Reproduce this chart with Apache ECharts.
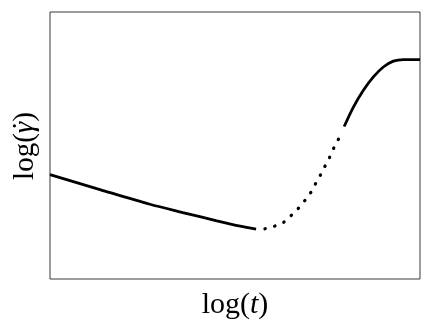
<!DOCTYPE html>
<html>
<head>
<meta charset="utf-8">
<script src="https://cdn.jsdelivr.net/npm/echarts@6/dist/echarts.min.js"></script>
<style>
html,body{margin:0;padding:0;background:#fff;}
#main{width:436px;height:329px;}
</style>
</head>
<body>
<div id="main"></div>
<script>
// curve, arbitrary log units (x 0..100, y 0..100)
var fallX = [0, 13.5, 27, 35.9, 45.1, 51.4, 55.7];
var fallY = [39.1, 33.5, 28.0, 24.9, 21.8, 19.8, 18.7];
var gapX = [58.1, 60.5, 63.0, 65.1, 67.0, 68.6, 70.3, 71.6, 73.0, 74.1, 75.4, 76.5, 77.8, 78.9];
var gapY = [18.8, 19.7, 21.1, 23.7, 26.3, 28.9, 32.0, 35.3, 38.7, 41.7, 45.1, 48.5, 51.9, 55.3];
var riseX = [79.5, 82.0, 84.7, 87.4, 90.1, 92.8, 95.5, 100];
var riseY = [57.1, 64.4, 70.7, 75.7, 79.4, 81.6, 82.2, 82.2];

function pairs(xs, ys){
	var out = [];
	for(var i=0;i<xs.length;i++) out.push([xs[i], ys[i]]);
	return out;
}

var font = '"Liberation Serif","DejaVu Serif",serif';
var myChart = echarts.init(document.getElementById('main'), null, {renderer:'canvas'});
var option = {
	animation:false,
	backgroundColor:'#fff',
	grid:{
		left:50, right:16, top:12, bottom:50,
		outerBoundsMode:'none', containLabel:false,
		show:true, borderColor:'#383838', borderWidth:1, backgroundColor:'transparent'
	},
	// y name drawn by hand so the dot over gamma shows up
	graphic:[{
		type:'group', x:25, y:146, rotation:Math.PI/2,
		children:[
			{type:'text', x:0, y:0, style:{
				text:'log({g|\u03b3})', align:'center', verticalAlign:'middle',
				font:'29px ' + font, fill:'#000',
				rich:{g:{fontFamily:font, fontSize:29, fontStyle:'italic', fill:'#000'}}
			}},
			{type:'text', x:20, y:0, style:{
				text:'\u02d9', align:'center', verticalAlign:'middle',
				font:'29px ' + font, fill:'#000'
			}}
		]
	}],
	xAxis:{
		type:'value', min:0, max:100,
		axisLine:{show:false}, axisTick:{show:false}, axisLabel:{show:false}, splitLine:{show:false},
		name:'log({it|t})', nameLocation:'middle', nameGap:11,
		nameTextStyle:{
			fontFamily:font, fontSize:30, color:'#000', verticalAlign:'top',
			rich:{it:{fontFamily:font, fontSize:30, fontStyle:'italic', color:'#000'}}
		}
	},
	yAxis:{
		type:'value', min:0, max:100,
		axisLine:{show:false}, axisTick:{show:false}, axisLabel:{show:false}, splitLine:{show:false}
	},
	series:[
		{
			type:'line', data:pairs(fallX, fallY), smooth:0.3, symbol:'none',
			lineStyle:{color:'#000', width:2.8}
		},
		{
			type:'line', data:pairs(gapX, gapY), smooth:0.3, symbol:'none',
			lineStyle:{color:'#000', width:3.2, type:[0.5, 9.5], cap:'round'}
		},
		{
			type:'line', data:pairs(riseX, riseY), smooth:0.3, symbol:'none',
			lineStyle:{color:'#000', width:2.8}
		}
	]
};
myChart.setOption(option);
</script>
</body>
</html>
